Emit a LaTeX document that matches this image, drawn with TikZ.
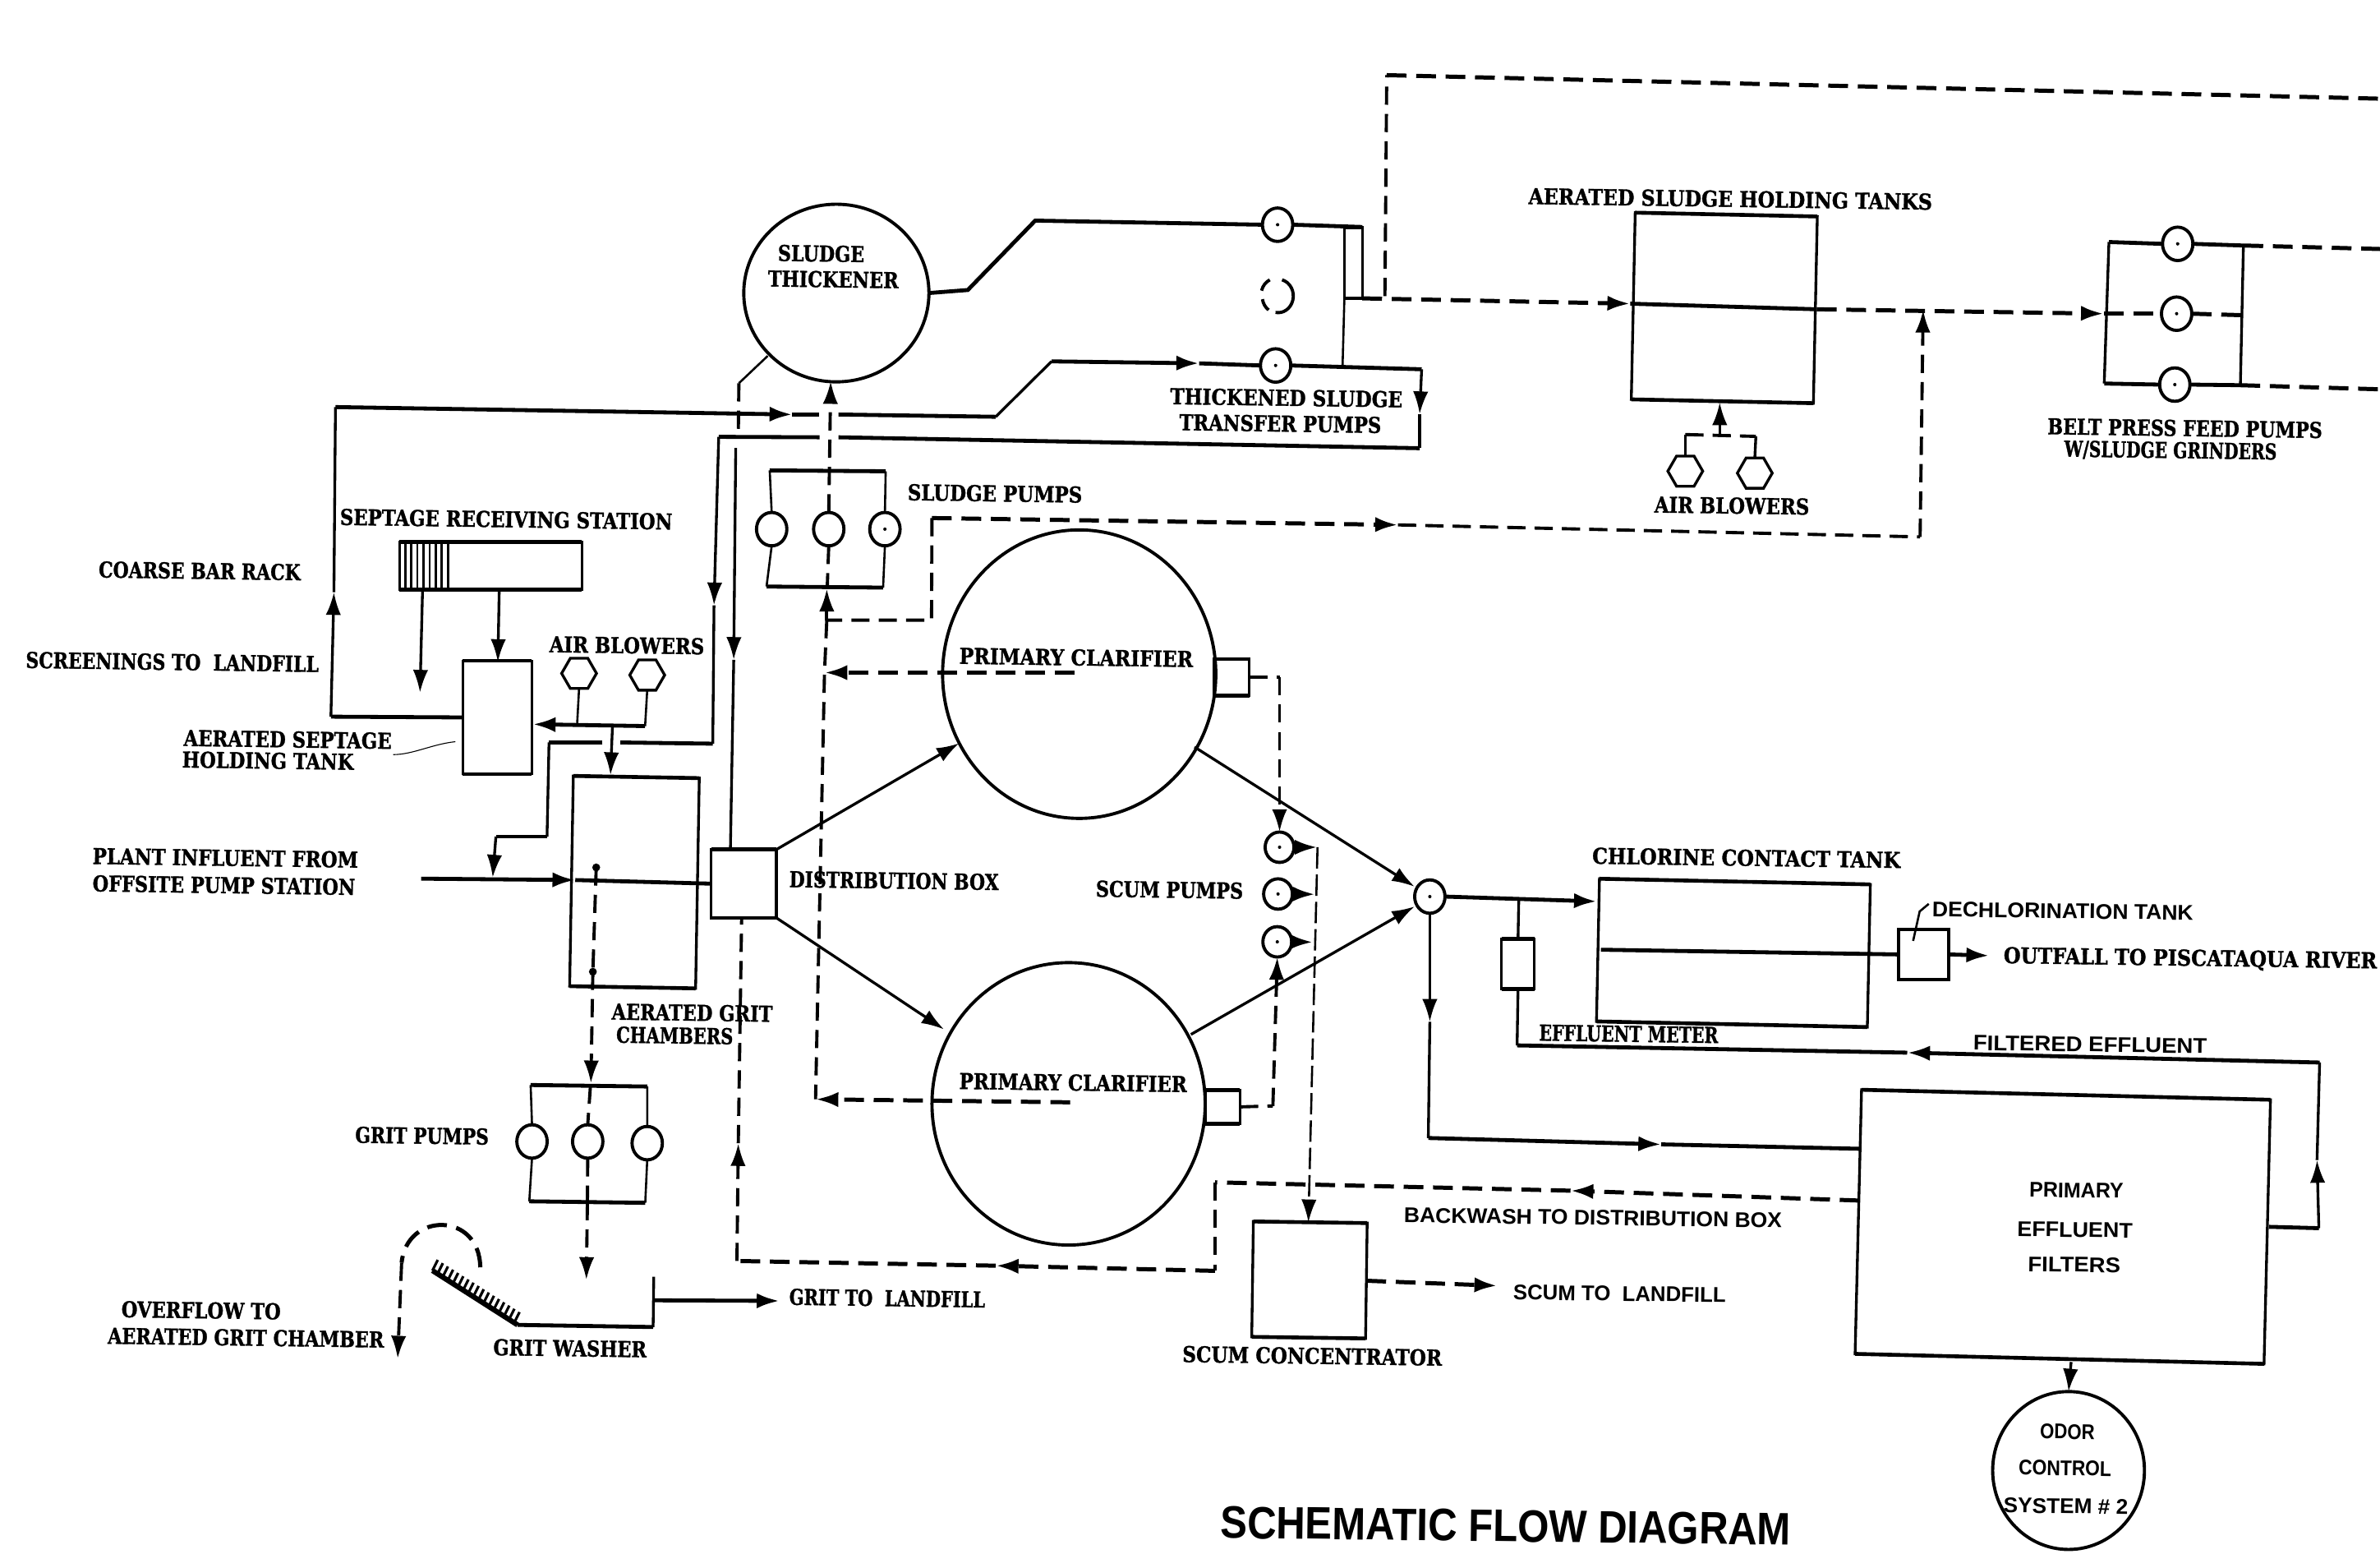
\documentclass[tikz,border=0pt]{standalone}
\usepackage{fontspec}
\usetikzlibrary{arrows.meta,shapes.geometric,calc}
\newfontfamily\slabf{DejaVu Serif}[BoldFeatures={FakeBold=1.3}]
\newfontfamily\sanf{Liberation Sans}
\newsavebox\fitbx
\newcommand\fitx[2]{\sbox\fitbx{#2}\pgfmathsetmacro\myfr{#1*0.5/\the\wd\fitbx}\scalebox{\myfr}[1]{\usebox\fitbx}}
\tikzset{
  sz/.style 2 args={minimum width=#1*0.5pt,minimum height=#2*0.5pt,inner sep=0pt,outer sep=0pt},
  thk/.style={line width=1.3pt},
  med/.style={line width=.9pt},
  thn/.style={line width=.7pt},
  hair/.style={line width=.3pt},
  dsh/.style={line width=1.05pt,dash pattern=on 6pt off 3pt},
  dsk/.style={line width=1.35pt,dash pattern=on 6.5pt off 3.2pt},
  hd/.style={-{Latex[length=7.5pt,width=5pt]}},
  tank/.style={draw,med,rectangle},
  pump/.style={draw,line width=1.05pt,ellipse,sz={20}{22}},
  blower/.style={draw,line width=.9pt,regular polygon,regular polygon sides=6,minimum size=11.5pt,inner sep=0pt,outer sep=0pt},
  round/.style={draw,line width=1.05pt,ellipse},
  lab/.style={font=\slabf\bfseries\fontsize{7.2}{8}\selectfont,inner sep=0pt,rotate=-.8},
  sanlab/.style={font=\sanf\bfseries\fontsize{7}{8}\selectfont,inner sep=0pt,rotate=-.8},
}
\begin{document}
\begin{tikzpicture}[x=0.5pt,y=-0.5pt]
\useasboundingbox (0,0) rectangle (1568,1023);
% ---------- equipment
\node[round,sz={122}{117}] (thick) at (551,193) {};
\node[round,sz={180}{190}] (clA) at (711,444) {};
\node[round,sz={180}{186}] (clB) at (704,727) {};
\node[round,sz={100}{104}] (odor) at (1362.8,968.5) {};
\node[tank,sz={20}{22},draw=none] (tpB) at (841.7,195.3) {};
\node[tank,sz={11.8}{47}] (tnar) at (891.6,173) {};
\node[tank,sz={120}{123},rotate=-1.2] (atank) at (1136,202.8) {};
\node[tank,sz={120}{31.4}] (sept) at (323.3,372.5) {};
\node[tank,sz={45.5}{74.5}] (stank) at (327.7,472.5) {};
\node[tank,sz={83}{138.5},rotate=-1] (grit) at (418,581) {};
\node[tank,sz={43}{45}] (dbox) at (490,582) {};
\node[tank,sz={23}{24}] (cbA) at (811.5,446) {};
\node[tank,sz={23}{22}] (cbB) at (805.5,729) {};
\node[tank,sz={75}{76},rotate=-.8] (scum) at (862.7,843) {};
\node[tank,sz={178.5}{94},rotate=-1.2] (chlor) at (1142,627.6) {};
\node[tank,sz={33}{33}] (dech) at (1267.3,628.6) {};
\node[tank,sz={21.6}{33}] (meter) at (1000.1,635) {};
\node[tank,sz={269.5}{174},rotate=-1.4] (filt) at (1359,808) {};
\foreach \n in {tnar,atank,sept,stank,grit,dbox,cbA,cbB,chlor,dech,meter,filt,scum}
  \draw[line width=1.25pt] (\n.north west)--(\n.north east) (\n.south west)--(\n.south east);
\foreach \x in {267,271,275,279,283,287,291,295.2} \draw[thn] (\x,357) -- (\x,388);
\node[pump] (tpA) at (841.7,148) {};
\node[pump] (tpC) at (840.4,240.7) {};
\node[pump] (bpA) at (1434.7,160.6) {};
\node[pump] (bpB) at (1434,206.6) {};
\node[pump] (bpC) at (1432.8,253.3) {};
\node[pump] (spA) at (508.4,348.5) {};
\node[pump] (spB) at (546,348.5) {};
\node[pump] (spC) at (583,348.5) {};
\node[pump] (gpA) at (350.5,751.8) {};
\node[pump] (gpB) at (387.2,751.8) {};
\node[pump] (gpC) at (426.4,752.9) {};
\node[pump,sz={19}{20}] (smA) at (843,558) {};
\node[pump,sz={19}{20}] (smB) at (842,588.8) {};
\node[pump,sz={19}{20}] (smC) at (841.5,620.3) {};
\node[pump] (junc) at (942,590.5) {};
\foreach \n in {tpA,tpC,bpA,bpB,bpC,spC,smA,smB,smC,junc} \fill (\n.center) circle (.55pt);
\draw[line width=1.05pt] (tpB.75) arc[start angle=75,end angle=-100,x radius=5pt,y radius=5.5pt];
\draw[line width=1.05pt] (tpB.115) arc[start angle=115,end angle=165,x radius=5pt,y radius=5.5pt];
\draw[line width=1.05pt] (tpB.190) arc[start angle=190,end angle=235,x radius=5pt,y radius=5.5pt];
\node[blower] (abA) at (1110.3,310.3) {};
\node[blower] (abB) at (1156.1,311.6) {};
\node[blower] (abC) at (381.5,443.5) {};
\node[blower] (abD) at (426.4,444.6) {};
% ---------- named points
\foreach \n/\x/\y in {
 aA/637.6/191, aB/682/145.3, teeA/884.5/241.4,
 bA/936.6/243.2, bB/935.3/272.8, bC/935.3/295.2, bD/552.4/288, bE/540/288, bF/473.5/287.7, bG/470.4/398.7, bH/469.6/489.8, bI/408.7/489, bJ/397/489, bK/361.7/489, bL/360.4/551, bM/326.7/551, bN/324.6/578,
 cA/221/268.1, cB/522/273, cC/539.5/273, cD/552.4/273, cE/656/274.5, cF/692.8/238, cG/790/239.3, cH/218/472, cI/220/390,
 mA/1074/200, mB/1197/203.7, mC/1386/206.6, rA/1265/353.6, rB/1267/204, rC/921/345.7, rD/614/341.2, rE/613.7/408.4, rF/544.7/408.4, rG/544.7/387.7,
 tA/912.4/195, tB/913.6/49.5, tC/1568/65,
 pTL/1389.4/159.4, pTR/1478/161.7, pBL/1386.3/252.6, pBR/1476/253.7, pOA/1568/164, pOB/1568/256.4, pM/1477.5/207.6,
 wA/1110.3/286.2, wB/1156.8/287.4, wC/1133/286.8, wD/1133/265,
 xA/380.2/477.4, xB/425/478.2, xC/351/477, xD/403.5/478.5, xE/402.2/510.5,
 iA/277.5/578.7, iB/379/579.6,
 eA/484.7/295, eB/483.4/434.6, eC/481.2/559.7, eD/505.8/234.4, eE/486.8/252.4, eF/486.4/285.5,
 uA/547.3/251, uB/545/387, uC/543.2/443, uD/537.3/724, lA/708/443, lB/705/726,
 kA/632/489.5, kB/622/678,
 gA/488.6/604.9, gB/486.4/752.9, gC/485.5/830.5, gD/656/833.6, gE/800.5/837, gF/800.5/778.7, gG/1034.7/784.2, gH/1225/790.7,
 oA/787/492, oB/932/584, oC/784.6/681.3, oD/932/597, oE/1052/593.7, oF/942/673, oG/941/749.5, oH/1094.4/753.7, oI/1225/756.6,
 oJ/1000.6/592.1, oK/999.5/688.5, oL/1528.2/699.8, oM/1256.5/693.3, oN/1495/808, oP/1527.7/808.9, oQ/1526.5/764,
 oR/1054.7/625.5, oS/1310.5/629.4, oT/1270.7/595.3, oU/1260.4/619.7, fA/1364.5/897,
 sA/868/558, sB/866.5/589, sC/865/620.5, sD/862/805, sE/986.4/846.8, hA/843/446, hB/838.6/728.4,
 dA/392.8/571.3, dB/390.6/640, dC/389.3/713.5,
 qTL/507.1/309.8, qTR/583.5/310.4, qBL/505/386.3, qBR/581.8/387,
 nTL/349.6/714.6, nTR/426.4/715.6, nBL/348.7/791.2, nBR/425.1/792.2, nT/389/715, nB/387/791.7, nE/386.3/843,
 vA/284.9/836.8, vB/341/872.6, vC/430.3/874, vD/430.7/840.9, vE/430.3/856.4, vF/513.6/856.8,
 yA/316.4/834.7, yB/264.6/831.6, yC/262/894.8, yD/316/798, yE/268/798,
 zA/278.4/388.2, zB/276.7/456.2, zC/328.9/389, zD/328/436,
 jA/259/497, jB/300/488.5}
 \coordinate (\n) at (\x,\y);
% ---------- thickener circuit
\draw[thk] (thick.east) -- (aA) -- (aB) -- (tpA.west);
\draw[thk] (tpA.east) -- (tnar.north east);
\draw[thn] (tnar.south west) -- (teeA);
\draw[thk] (tpC.east) -- (bA);
\draw[med,hd] (bA) -- (bB);
\draw[med] (bB) -- (bC);
\draw[thk] (bC) -- (bD);
\draw[thk] (bE) -- (bF);
\draw[med,hd] (bF) -- (bG);
\draw[med] (bG) -- (bH);
\draw[thk] (bH) -- (bI);
\draw[thk] (bJ) -- (bK);
\draw[med] (bK) -- (bL);
\draw[thk] (bL) -- (bM);
\draw[med,hd] (bM) -- (bN);
\draw[thk] (stank.west) -- (cH);
\draw[med,hd] (cH) -- (cI);
\draw[med] (cI) -- (cA);
\draw[thk,hd] (cA) -- (cB);
\draw[thk] (cB) -- (cC);
\draw[thk] (cD) -- (cE);
\draw[med] (cE) -- (cF);
\draw[thk,hd] (cF) -- (cG);
\draw[thk] (cG) -- (tpC.west);
% ---------- dashed sludge lines
\draw[dsk,hd] (tnar.south east) -- (mA);
\draw[thk] (mA) -- (mB);
\draw[dsk,hd] (mB) -- (mC);
\draw[dsk] (mC) -- (bpB.west);
\draw[dsk] (bpB.east) -- (pM);
\draw[dsh] (tA) -- (tB);
\draw[dsk] (tB) -- (tC);
\draw[dsk,hd] (rD) -- (rC);
\draw[dsh] (rC) -- (rA);
\draw[dsh,hd] (rA) -- (rB);
\draw[dsh] (rD) -- (rE) -- (rF);
\draw[dsh,hd] (rF) -- (rG);
\draw[dsh] (rF) -- (uC) -- (uD);
\draw[dsh,hd] (spB.north) -- (uA);
\draw[dsh] (spB.south) -- (uB);
\draw[dsk,hd] (lA) -- (uC);
\draw[dsk,hd] (lB) -- (uD);
% ---------- belt press pumps
\draw[thk] (pTL) -- (bpA.west) (bpA.east) -- (pTR);
\draw[thk] (pBL) -- (bpC.west) (bpC.east) -- (pBR);
\draw[med] (pTL) -- (pBL) (pTR) -- (pBR);
\draw[dsk] (pTR) -- (pOA);
\draw[dsk] (pBR) -- (pOB);
\draw[med] (abA.north) -- (wA);
\draw[dsh] (wA) -- (wB);
\draw[med] (wB) -- (abB.north);
\draw[med,hd] (wC) -- (wD);
% ---------- sludge pumps
\draw[thk] (qTL) -- (qTR) (qBL) -- (qBR);
\draw[thn] (qTL) -- (spA.north) (spA.south) -- (qBL) (qTR) -- (spC.north) (spC.south) -- (qBR);
% ---------- septage, grit
\draw[med,hd] (zA) -- (zB);
\draw[med,hd] (zC) -- (zD);
\draw[thn] (abC.south) -- (xA);
\draw[thn] (abD.south) -- (xB);
\draw[thk,hd] (xB) -- (xC);
\draw[med,hd] (xD) -- (xE);
\draw[thk,hd] (iA) -- (iB);
\draw[thk] (iB) -- (dbox.west);
\draw[med,hd] (eA) -- (eB);
\draw[med] (eB) -- (eC);
\draw[thn] (eD) -- (eE);
\draw[dsh] (eE) -- (eF);
\draw[med,hd] (dbox.north east) -- (kA);
\draw[med,hd] (dbox.south east) -- (kB);
\fill (dA) circle (1.3pt) (dB) circle (1.3pt);
\draw[dsh] (dA) -- (dB);
\draw[dsh,hd] (dB) -- (dC);
\draw[dsh] (nT) -- (gpB.north);
\draw[dsh] (gpB.south) -- (nB);
\draw[dsh,hd] (nB) -- (nE);
\draw[thk] (nTL) -- (nTR) (nBL) -- (nBR);
\draw[thn] (nTL) -- (gpA.north) (gpA.south) -- (nBL) (nTR) -- (gpC.north) (gpC.south) -- (nBR);
% ---------- washer
\draw[line width=1.7pt] (vA) -- (vB);
\draw[thk] (vB) -- (vC);
\draw[med] (vC) -- (vD);
\foreach \t in {0,.06,...,1.01} \draw[line width=.85pt] ($(vA)!\t!(vB)$) -- ++(3.5,-7);
\draw[thk,hd] (vE) -- (vF);
\draw[dsk] (yA) .. controls (yD) and (yE) .. (yB);
\draw[dsh,hd] (yB) -- (yC);
% ---------- backwash
\draw[dsh,hd] (gC) -- (gB);
\draw[dsh] (gB) -- (gA);
\draw[dsk,hd] (gE) -- (gD);
\draw[dsk] (gD) -- (gC);
\draw[dsk,hd] (gH) -- (gG);
\draw[dsk] (gG) -- (gF);
\draw[dsh] (gF) -- (gE);
% ---------- clarifier outflow
\draw[med,hd] (oA) -- (oB);
\draw[med,hd] (oC) -- (oD);
\draw[thk,hd] (junc.east) -- (oE);
\draw[med,hd] (junc.south) -- (oF);
\draw[med] (oF) -- (oG);
\draw[thk,hd] (oG) -- (oH);
\draw[thk] (oH) -- (oI);
\draw[med] (oJ) -- (meter.north);
\draw[med] (meter.south) -- (oK);
\draw[thk,hd] (oL) -- (oM);
\draw[thk] (oM) -- (oK);
\draw[thk] (oN) -- (oP);
\draw[med,hd] (oP) -- (oQ);
\draw[med] (oQ) -- (oL);
\draw[thk] (oR) -- (dech.west);
\draw[thk,hd] (dech.east) -- (oS);
\draw[thn] (oT) -- ++(-6,5) -- (oU);
\draw[med,hd] (fA) -- (odor.north);
% ---------- scum
\draw[dsh] (cbA.east) -- (hA);
\draw[dsh,hd] (hA) -- (smA.north);
\draw[dsh] (cbB.east) -- (hB);
\draw[dsh,hd] (hB) -- (smC.south);
\draw[thk,hd] (smA.east) -- (sA);
\draw[thk,hd] (smB.east) -- (sB);
\draw[thk,hd] (smC.east) -- (sC);
\draw[thn,dash pattern=on 7pt off 2pt,hd] (sA) -- (sD);
\draw[dsk,hd] (scum.east) -- (sE);
\draw[hair] (jA) .. controls (272,497) and (285,490) .. (jB);
% ---------- texts
\node[lab] (t01) at (131.5,376) {\fitx{133}{COARSE BAR RACK}};
\node[lab] (t02) at (113.5,436) {\fitx{193}{SCREENINGS TO\ \ LANDFILL}};
\node[lab] (t03) at (333.5,342) {\fitx{219}{SEPTAGE RECEIVING STATION}};
\node[lab] (t04) at (413,425) {\fitx{102}{AIR BLOWERS}};
\node[lab] (t05) at (189.5,487) {\fitx{137}{AERATED SEPTAGE}};
\node[lab] (t06) at (176.5,501) {\fitx{113}{HOLDING TANK}};
\node[lab] (t07) at (148.5,565) {\fitx{175}{PLANT INFLUENT FROM}};
\node[lab] (t08) at (147.5,583) {\fitx{173}{OFFSITE PUMP STATION}};
\node[lab] (t09) at (589,580) {\fitx{138}{DISTRIBUTION BOX}};
\node[lab] (t10) at (456,667) {\fitx{106}{AERATED GRIT}};
\node[lab] (t11) at (444.5,682) {\fitx{77}{CHAMBERS}};
\node[lab] (t12) at (278,748) {\fitx{88}{GRIT PUMPS}};
\node[lab] (t13) at (132.5,863) {\fitx{105}{OVERFLOW TO}};
\node[lab] (t14) at (162,881) {\fitx{182}{AERATED GRIT CHAMBER}};
\node[lab] (t15) at (375.5,888) {\fitx{101}{GRIT WASHER}};
\node[lab] (t16) at (584.5,855) {\fitx{129}{GRIT TO\ \ LANDFILL}};
\node[lab] (t17) at (541,167) {\fitx{57}{SLUDGE}};
\node[lab] (t18) at (549,184) {\fitx{86}{THICKENER}};
\node[lab] (t19) at (655.5,325) {\fitx{115}{SLUDGE PUMPS}};
\node[lab] (t20) at (709,433) {\fitx{154}{PRIMARY CLARIFIER}};
\node[lab] (t21) at (707,713) {\fitx{150}{PRIMARY CLARIFIER}};
\node[lab] (t22) at (770.5,586) {\fitx{97}{SCUM PUMPS}};
\node[lab] (t23) at (847.5,262) {\fitx{153}{THICKENED SLUDGE}};
\node[lab] (t24) at (843.5,279) {\fitx{133}{TRANSFER PUMPS}};
\node[lab] (t25) at (1140,131) {\fitx{266}{AERATED SLUDGE HOLDING TANKS}};
\node[lab] (t26) at (1141,333) {\fitx{102}{AIR BLOWERS}};
\node[lab] (t27) at (1439.5,282) {\fitx{181}{BELT PRESS FEED PUMPS}};
\node[lab] (t28) at (1430,297) {\fitx{140}{W/SLUDGE GRINDERS}};
\node[lab] (t29) at (1150.5,565) {\fitx{203}{CHLORINE CONTACT TANK}};
\node[sanlab] (t30) at (1359,600) {\fitx{172}{DECHLORINATION TANK}};
\node[lab] (t31) at (1443,632) {\fitx{246}{OUTFALL TO PISCATAQUA RIVER}};
\node[lab] (t32) at (1073,681) {\fitx{118}{EFFLUENT METER}};
\node[sanlab] (t33) at (1377,688) {\fitx{154}{FILTERED EFFLUENT}};
\node[sanlab] (t34) at (1049.5,802) {\fitx{249}{BACKWASH TO DISTRIBUTION BOX}};
\node[sanlab] (t35) at (1067,852) {\fitx{140}{SCUM TO\ \ LANDFILL}};
\node[lab] (t36) at (864.5,893) {\fitx{171}{SCUM CONCENTRATOR}};
\node[sanlab] (t37) at (1368,784) {\fitx{62}{PRIMARY}};
\node[sanlab] (t38) at (1367,810) {\fitx{76}{EFFLUENT}};
\node[sanlab] (t39) at (1366.5,833) {\fitx{61}{FILTERS}};
\node[sanlab] (t40) at (1362,943) {\fitx{36}{ODOR}};
\node[sanlab] (t41) at (1360.5,967) {\fitx{61}{CONTROL}};
\node[sanlab] (t42) at (1361,992) {\fitx{82}{SYSTEM \# 2}};
\node[font=\sanf\bfseries\fontsize{15}{16}\selectfont,inner sep=0pt,rotate=-.7] (t43) at (992,1005) {\fitx{376}{SCHEMATIC FLOW DIAGRAM}};
\end{tikzpicture}
\end{document}
